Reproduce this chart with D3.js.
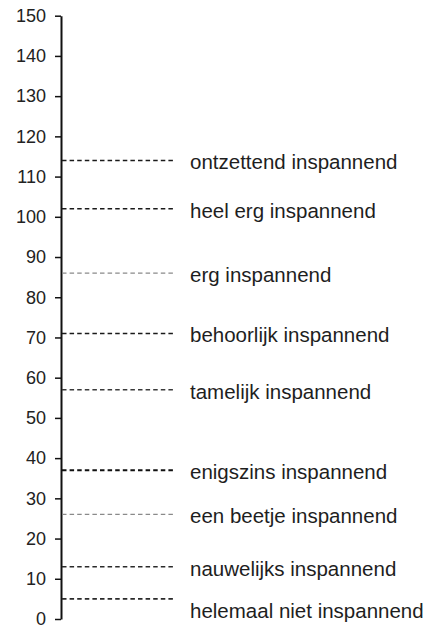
<!DOCTYPE html>
<html>
<head>
<meta charset="utf-8">
<script src="https://cdn.jsdelivr.net/npm/d3@7"></script>
<style>
  html, body { margin: 0; padding: 0; background: #fff; }
  svg { display: block; }
</style>
</head>
<body>
<svg id="chart" width="424" height="628"></svg>
<script>
// ---- data ----
const anchorLabels = [
  "ontzettend inspannend",
  "heel erg inspannend",
  "erg inspannend",
  "behoorlijk inspannend",
  "tamelijk inspannend",
  "enigszins inspannend",
  "een beetje inspannend",
  "nauwelijks inspannend",
  "helemaal niet inspannend"
];
const anchorValues = [114, 102, 86, 71, 57, 37, 26, 13, 5];
const tickValues = [0, 10, 20, 30, 40, 50, 60, 70, 80, 90, 100, 110, 120, 130, 140, 150];

// ---- styling (separate from data) ----
const lineColors = ["#1a1a1a", "#1a1a1a", "#8a8a8a", "#1a1a1a", "#3a3a3a", "#111", "#8a8a8a", "#2a2a2a", "#2a2a2a"];
const lineWidths = [1.6, 1.6, 1.4, 1.6, 1.3, 2, 1.3, 1.6, 1.6];

const svg = d3.select("#chart");
const axisX = 61;
const y = d3.scaleLinear().domain([0, 150]).range([619, 15.7]);

// axis
const axis = d3.axisLeft(y).tickValues(tickValues).tickSize(6).tickPadding(9).tickSizeOuter(0);
const g = svg.append("g").attr("transform", `translate(${axisX},0)`).call(axis);
g.select(".domain").attr("stroke", "#111").attr("stroke-width", 2);
g.selectAll(".tick line").attr("stroke", "#111").attr("stroke-width", 1.5);
g.selectAll(".tick text")
  .attr("font-family", "Arial, 'Liberation Sans', sans-serif")
  .attr("font-size", 18)
  .attr("fill", "#222");

// dashed anchor lines
const lineStart = axisX + 1;
const lineEnd = 176;
svg.append("g").selectAll("line")
  .data(anchorValues)
  .join("line")
  .attr("x1", lineStart)
  .attr("x2", lineEnd)
  .attr("y1", d => y(d))
  .attr("y2", d => y(d))
  .attr("stroke", (d, i) => lineColors[i])
  .attr("stroke-width", (d, i) => lineWidths[i])
  .attr("stroke-dasharray", "4.5,3.1");

// labels with simple downward collision avoidance
const baselineOffset = 9;
const minGap = 42;
const labelY = [];
anchorValues.forEach((v, i) => {
  let yy = y(v) + baselineOffset;
  if (i > 0) yy = Math.max(yy, labelY[i - 1] + minGap);
  labelY.push(yy);
});

svg.append("g").selectAll("text")
  .data(anchorLabels)
  .join("text")
  .attr("x", 190)
  .attr("y", (d, i) => labelY[i])
  .attr("font-family", "Arial, 'Liberation Sans', sans-serif")
  .attr("font-size", 20.5)
  .attr("fill", "#1e1e1e")
  .text(d => d);
</script>
</body>
</html>
